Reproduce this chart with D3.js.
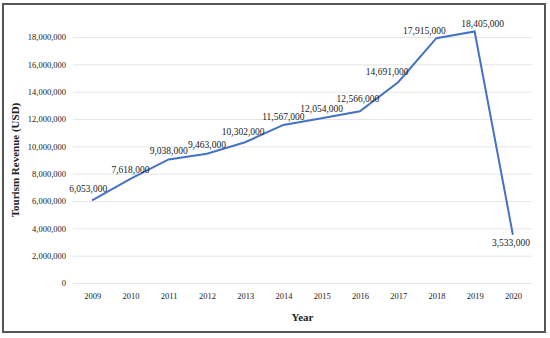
<!DOCTYPE html>
<html>
<head>
<meta charset="utf-8">
<title>Tourism Revenue</title>
<style>
  body { margin: 0; background: #fff; }
  svg text { font-family: "Liberation Serif", "Times New Roman", serif; fill: #222; }
  .grid line { stroke: #e6e6e6; }
  .line { fill: none; stroke: #4472c4; stroke-width: 2; }
</style>
</head>
<body>
<script src="https://cdn.jsdelivr.net/npm/d3@7"></script>
<script>
var years = ["2009","2010","2011","2012","2013","2014","2015","2016","2017","2018","2019","2020"];
var revenue = [6053000, 7618000, 9038000, 9463000, 10302000, 11567000, 12054000, 12566000, 14691000, 17915000, 18405000, 3533000];
var yTicks = [0, 2000000, 4000000, 6000000, 8000000, 10000000, 12000000, 14000000, 16000000, 18000000];

var W = 550, H = 338;
var margin = {top: 37, right: 18, bottom: 55, left: 73};
var width = W - margin.left - margin.right,
    height = H - margin.top - margin.bottom;

var svg = d3.select("body").append("svg").attr("width", W).attr("height", H);

// outer frame
svg.append("rect").attr("x", 3).attr("y", 4).attr("width", 542).attr("height", 328)
  .attr("fill", "none").attr("stroke", "#555").attr("stroke-width", 2);

var g = svg.append("g").attr("transform", "translate(" + margin.left + "," + margin.top + ")");

var x = d3.scalePoint().domain(years).range([0, width]).padding(0.5);
var y = d3.scaleLinear().domain([0, 18000000]).range([height, 0]);
var fmt = d3.format(",");

// gridlines + y labels
g.append("g").attr("class", "grid")
  .call(d3.axisLeft(y).tickValues(yTicks).tickSize(-width).tickFormat(fmt).tickPadding(7))
  .call(function(s) {
    s.select(".domain").remove();
    s.selectAll(".tick text").attr("font-size", 8.5).attr("fill", "#222")
      .attr("font-family", "Liberation Serif, serif");
  });

// x labels
g.append("g").attr("transform", "translate(0," + height + ")")
  .call(d3.axisBottom(x).tickSize(0).tickPadding(10))
  .call(function(s) {
    s.select(".domain").remove();
    s.selectAll(".tick text").attr("font-size", 8.5).attr("fill", "#222")
      .attr("font-family", "Liberation Serif, serif");
  });

var pts = years.map(function(d, i) { return {year: d, v: revenue[i]}; });

g.append("path").datum(pts).attr("class", "line")
  .attr("d", d3.line().x(function(d) { return x(d.year); }).y(function(d) { return y(d.v); }));

// value labels, nudged by hand like the original
var nudge = [[-4,-8],[0,-6],[0,-5],[0,-6],[-2,-7],[0,-5],[0,-6],[-2,-9],[-11,-7],[-12,-4],[8,-4],[-2,11]];
g.selectAll(".lbl").data(pts).enter().append("text")
  .attr("class", "lbl")
  .attr("x", function(d, i) { return x(d.year) + nudge[i][0]; })
  .attr("y", function(d, i) { return y(d.v) + nudge[i][1]; })
  .attr("text-anchor", "middle")
  .attr("font-size", 9.5)
  .text(function(d) { return fmt(d.v); });

// axis titles
svg.append("text").attr("x", margin.left + width / 2).attr("y", 321)
  .attr("text-anchor", "middle").attr("font-weight", "bold").attr("font-size", 11)
  .text("Year");
svg.append("text").attr("transform", "translate(19," + (margin.top + height / 2) + ") rotate(-90)")
  .attr("text-anchor", "middle").attr("font-weight", "bold").attr("font-size", 11)
  .text("Tourism Revenue (USD)");
</script>
</body>
</html>
